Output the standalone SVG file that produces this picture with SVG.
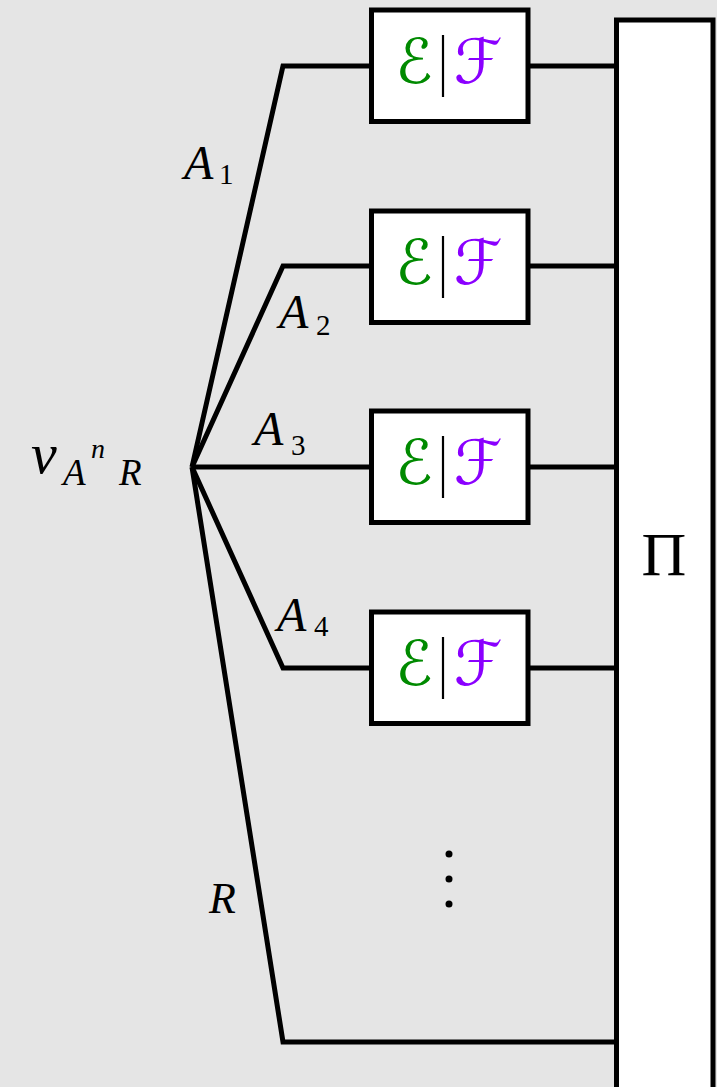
<svg xmlns="http://www.w3.org/2000/svg" width="717" height="1087" viewBox="0 0 717 1087">
<style>
.bx{fill:#ffffff;stroke:#000000;stroke-width:5}
.ln{fill:none;stroke:#000000;stroke-width:5;stroke-linejoin:miter}
.m{font-family:'Liberation Serif','Times New Roman','Noto Serif','DejaVu Serif',serif;font-style:italic;fill:#000000}
.up{font-family:'Liberation Serif','Times New Roman','Noto Serif','DejaVu Serif',serif;font-style:normal;fill:#000000}
.sc{font-family:'DejaVu Serif','DejaVu Sans',serif;font-size:62px;font-style:normal}
.e{fill:#008a00}
.f{fill:#8a00ff}
.vb{stroke:#000000;stroke-width:2.2}
</style>
<rect width="717" height="1087" fill="#e5e5e5"/>
<g id="connectors">
<polyline class="ln" points="371,66 283,66 192,467"/>
<polyline class="ln" points="371,266 283,266 192,467"/>
<polyline class="ln" points="371,467 192,467"/>
<polyline class="ln" points="371,668 283,668 192,467"/>
<polyline class="ln" points="616,1042 283,1042 192,467"/>
<line class="ln" x1="528" y1="66" x2="616" y2="66"/>
<line class="ln" x1="528" y1="266" x2="616" y2="266"/>
<line class="ln" x1="528" y1="467" x2="616" y2="467"/>
<line class="ln" x1="528" y1="668" x2="616" y2="668"/>
</g>
<g id="pi">
<rect class="bx" x="616.5" y="20" width="96.5" height="1080"/>
<text class="up" x="664" y="575" font-size="62" text-anchor="middle">Π</text>
</g>
<g id="box1">
<rect class="bx" x="371.5" y="10" width="156.5" height="111.5"/>
<text class="sc e" x="414" y="83" text-anchor="middle">ℰ</text>
<text class="sc f" x="478" y="83" text-anchor="middle">ℱ</text>
<line class="vb" x1="443" y1="35" x2="443" y2="97"/>
</g>
<g id="box2">
<rect class="bx" x="371.5" y="211" width="156.5" height="111.5"/>
<text class="sc e" x="414" y="284" text-anchor="middle">ℰ</text>
<text class="sc f" x="478" y="284" text-anchor="middle">ℱ</text>
<line class="vb" x1="443" y1="236" x2="443" y2="298"/>
</g>
<g id="box3">
<rect class="bx" x="371.5" y="411" width="156.5" height="111.5"/>
<text class="sc e" x="414" y="484" text-anchor="middle">ℰ</text>
<text class="sc f" x="478" y="484" text-anchor="middle">ℱ</text>
<line class="vb" x1="443" y1="436" x2="443" y2="498"/>
</g>
<g id="box4">
<rect class="bx" x="371.5" y="612" width="156.5" height="111.5"/>
<text class="sc e" x="414" y="685" text-anchor="middle">ℰ</text>
<text class="sc f" x="478" y="685" text-anchor="middle">ℱ</text>
<line class="vb" x1="443" y1="637" x2="443" y2="699"/>
</g>
<g id="dots">
<circle cx="449" cy="854" r="3.5"/>
<circle cx="449" cy="879" r="3.5"/>
<circle cx="449" cy="904" r="3.5"/>
</g>
<g id="source">
<text class="m" x="31" y="473" font-size="58">ν</text>
<text class="m" x="63" y="485" font-size="37">A</text>
<text class="m" x="91" y="458" font-size="28">n</text>
<text class="m" x="119" y="485" font-size="37">R</text>
</g>
<g id="labels">
<text class="m" x="184" y="179" font-size="48">A</text>
<text class="up" x="219" y="184" font-size="29">1</text>
<text class="m" x="279" y="328" font-size="48">A</text>
<text class="up" x="316" y="335" font-size="29">2</text>
<text class="m" x="254" y="445" font-size="48">A</text>
<text class="up" x="291" y="455" font-size="29">3</text>
<text class="m" x="277" y="631" font-size="48">A</text>
<text class="up" x="314" y="636" font-size="29">4</text>
<text class="m" x="209" y="913" font-size="44">R</text>
</g>
</svg>
